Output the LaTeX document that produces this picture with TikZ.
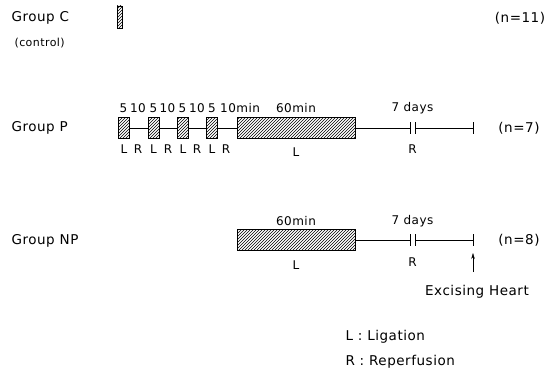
\documentclass[tikz,border=0pt]{standalone}
\usepackage{fontspec}
\setmainfont[LetterSpace=4]{DejaVu Sans}
\usetikzlibrary{arrows.meta,positioning,patterns}
\tikzset{
  hbox/.style={draw,thick,pattern=north east lines,minimum height=21pt,inner sep=0pt},
  grp/.style={anchor=west,font=\fontsize{13.5}{16}\selectfont},
  lbl/.style={font=\fontsize{12}{14}\selectfont,inner sep=1pt},
  big/.style={lbl,font=\fontsize{13.5}{16}\selectfont},
  bar/.style={thick},
}
\begin{document}
\begin{tikzpicture}[x=1pt,y=-1pt,>={Stealth[length=6pt,width=3.5pt]}]
  \useasboundingbox (0,0) rectangle (551,369);

  % Group C
  \node[grp] (gc) at (8,18) {Group C};
  \node[anchor=west,font=\fontsize{11}{13}\selectfont] (ctl) at (11,43) {(control)};
  \node[hbox,minimum width=5pt,minimum height=22pt] (c1) at (119.5,17) {};
  \node[big] (nc) at (520,18) {(n=11)};

  % Group P
  \node[grp] (gp) at (8,128) {Group P};
  \node[hbox,minimum width=11pt] (p1) at (123.5,128) {};
  \node[hbox,minimum width=11pt] (p2) at (153.5,128) {};
  \node[hbox,minimum width=11pt] (p3) at (182.5,128) {};
  \node[hbox,minimum width=11pt] (p4) at (212,128) {};
  \node[hbox,minimum width=118pt] (pL) at (296,128) {};
  \coordinate (pb1) at (410,128);
  \coordinate (pb2) at (415,128);
  \coordinate (pe) at (473,128);
  \draw (p1) -- (p2) -- (p3) -- (p4) -- (pL) -- (pb1);
  \draw (pb2) -- (pe);
  \foreach \c in {pb1,pb2,pe}
    \draw[bar] ([yshift=6pt]\c) -- ([yshift=-6pt]\c);

  \node[lbl] (t1) at (123.5,108) {5};
  \node[lbl] (t2) at (138,108) {10};
  \node[lbl] (t3) at (153.5,108) {5};
  \node[lbl] (t4) at (167.5,108) {10};
  \node[lbl] (t5) at (182.5,108) {5};
  \node[lbl] (t6) at (197,108) {10};
  \node[lbl] (t7) at (212,108) {5};
  \node[lbl,anchor=west] (t8) at (219,108) {10min};
  \node[lbl] (t9) at (296,108) {60min};
  \node[lbl] (t10) at (412.5,108) {7 days};

  \node[lbl] (l1) at (124,149) {L};
  \node[lbl] (r1) at (138,149) {R};
  \node[lbl] (l2) at (153.5,149) {L};
  \node[lbl] (r2) at (168,149) {R};
  \node[lbl] (l3) at (183,149) {L};
  \node[lbl] (r3) at (197,149) {R};
  \node[lbl] (l4) at (212,149) {L};
  \node[lbl] (r4) at (226,149) {R};
  \node[lbl] (lL) at (296,152) {L};
  \node[lbl] (rR) at (412.5,149) {R};
  \node[big] (np) at (519,128) {(n=7)};

  % Group NP
  \node[grp] (gnp) at (8,241) {Group NP};
  \node[hbox,minimum width=118pt] (nL) at (296,240) {};
  \coordinate (nb1) at (410,240);
  \coordinate (nb2) at (415,240);
  \coordinate (ne) at (473,240);
  \draw (nL) -- (nb1);
  \draw (nb2) -- (ne);
  \foreach \c in {nb1,nb2,ne}
    \draw[bar] ([yshift=6pt]\c) -- ([yshift=-6pt]\c);
  \node[lbl] (u1) at (296,221) {60min};
  \node[lbl] (u2) at (412.5,221) {7 days};
  \node[lbl] (u3) at (296,265) {L};
  \node[lbl] (u4) at (412.5,262) {R};
  \node[big] (nn) at (519,240) {(n=8)};

  % excising
  \node[big] (ex) at (477,292) {Excising Heart};
  \coordinate (arr) at (473,253);
  \coordinate (arrfoot) at (473,272);
  \draw[->] (arrfoot) -- (arr);

  % legend
  \node[grp] (lg1) at (342,337) {L : Ligation};
  \node[grp] (lg2) at (342,362) {R : Reperfusion};
\end{tikzpicture}
\end{document}
